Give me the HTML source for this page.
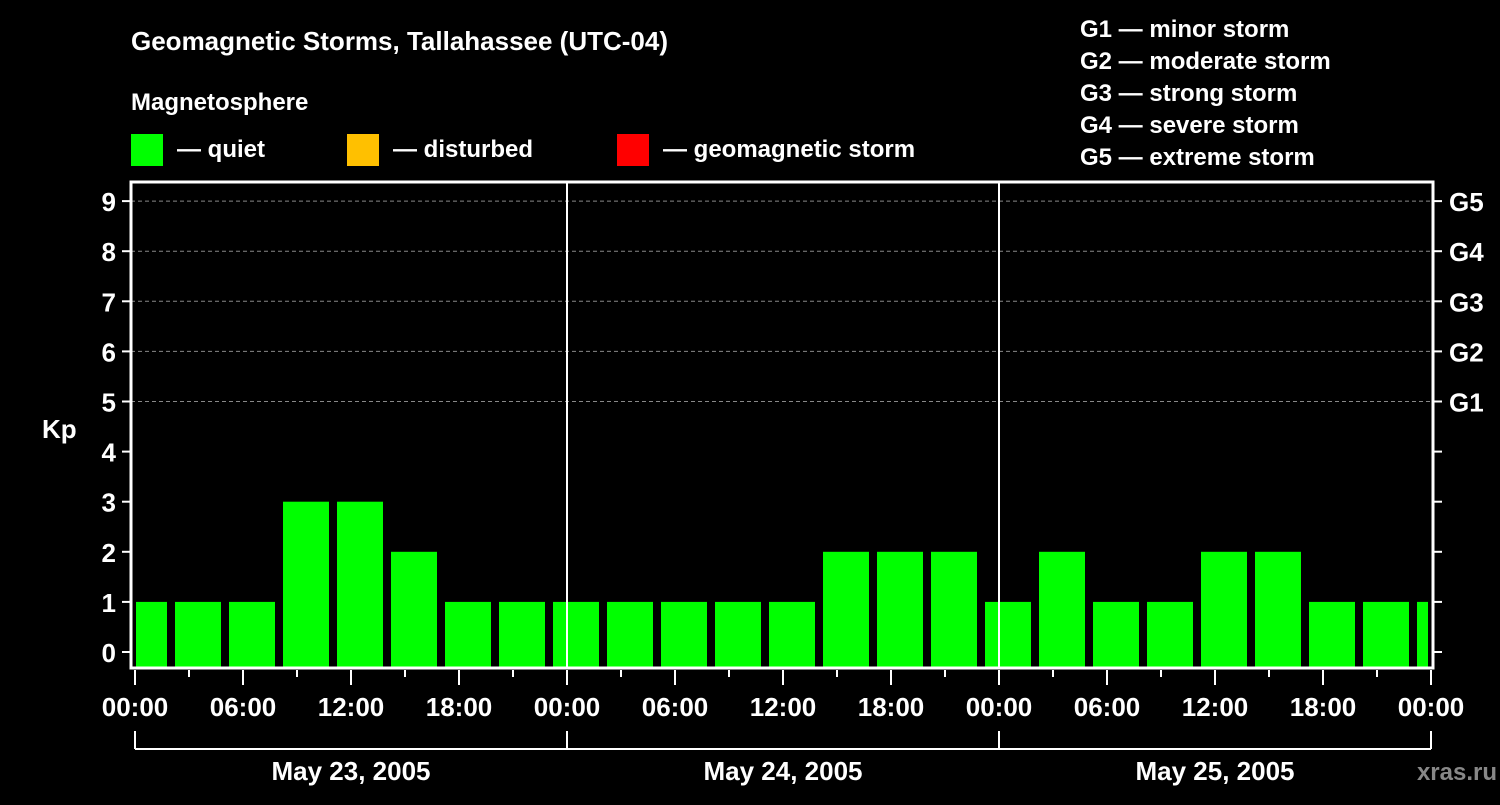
<!DOCTYPE html>
<html><head><meta charset="utf-8"><style>
body{margin:0;background:#000;width:1500px;height:800px;overflow:hidden}
svg text{font-family:"Liberation Sans",sans-serif;font-weight:bold;fill:#fff}
</style></head><body>
<svg id="chart" width="1500" height="800" viewBox="0 0 1500 800" xmlns="http://www.w3.org/2000/svg">
<text x="131" y="50" font-size="26">Geomagnetic Storms, Tallahassee (UTC-04)</text>
<text x="131" y="110" font-size="24">Magnetosphere</text>
<rect x="131" y="134" width="32" height="32" fill="#00ff00"/>
<text x="177" y="157" font-size="24">— quiet</text>
<rect x="347" y="134" width="32" height="32" fill="#ffc000"/>
<text x="393" y="157" font-size="24">— disturbed</text>
<rect x="617" y="134" width="32" height="32" fill="#ff0000"/>
<text x="663" y="157" font-size="24">— geomagnetic storm</text>
<g font-size="24">
<text x="1080" y="37">G1 — minor storm</text>
<text x="1080" y="69">G2 — moderate storm</text>
<text x="1080" y="101">G3 — strong storm</text>
<text x="1080" y="133">G4 — severe storm</text>
<text x="1080" y="165">G5 — extreme storm</text>
</g>
<text x="42" y="438" font-size="26">Kp</text>
<text x="1497" y="780" font-size="24" text-anchor="end" fill="#888" style="fill:#888">xras.ru</text>
<g id="grid"></g><g id="bars"></g><g id="axes"></g>
</svg>
<script>
const kpValues=[1,1,1,3,3,2,1,1,1,1,1,1,1,2,2,2,1,2,1,1,2,2,1,1,1];
const yTicks=[0,1,2,3,4,5,6,7,8,9];
const gLabels=["G1","G2","G3","G4","G5"];
const gLevels=[5,6,7,8,9];
const hourLabels=["00:00","06:00","12:00","18:00"];
const dayLabels=["May 23, 2005","May 24, 2005","May 25, 2005"];
const NS="http://www.w3.org/2000/svg";
const L=131,R=1433,T=182,B=668,X0=135,PXH=18,Y0=652,PXK=50.1;
const x=h=>X0+h*PXH, y=k=>Y0-k*PXK;
function mk(tag,attrs,parent){const e=document.createElementNS(NS,tag);for(const k in attrs)e.setAttribute(k,attrs[k]);parent.appendChild(e);return e;}
const grid=document.getElementById('grid'),bars=document.getElementById('bars'),axes=document.getElementById('axes');
gLevels.forEach((g,i)=>{
 const l=mk('line',{x1:L,x2:R,y1:y(g),y2:y(g),stroke:'#888','stroke-dasharray':'4,3','stroke-width':1},grid);
 
 
 const t=mk('text',{x:1449,y:y(g)+10,'font-size':26},axes);t.textContent=gLabels[i];
 
 
});
kpValues.forEach((v,i)=>{
 let s=x(-1+3*i)+4,e=x(2+3*i)-4;
 s=Math.max(s,L+5);e=Math.min(e,R-5);
 const r=mk('rect',{x:s,y:y(v),width:e-s,height:B-1-y(v),fill:v>=5?'#ff0000':(v>=4?'#ffc000':'#00ff00')},bars);
 
 
});
// day separators
[1,2].forEach(d=>{const l=mk('line',{x1:x(24*d),x2:x(24*d),y1:T,y2:B,stroke:'#fff','stroke-width':2},axes);
 
 });
const fr=mk('rect',{x:L,y:T,width:R-L,height:B-T,fill:'none',stroke:'#fff','stroke-width':3},axes);


yTicks.forEach(k=>{
 mk('line',{x1:122,x2:L,y1:y(k),y2:y(k),stroke:'#fff','stroke-width':2},axes);
 mk('line',{x1:R,x2:1442,y1:y(k),y2:y(k),stroke:'#fff','stroke-width':2},axes);
 const t=mk('text',{x:116,y:y(k)+10,'font-size':26,'text-anchor':'end'},axes);t.textContent=k;
 
 
});
for(let h=0;h<=72;h+=3){
 const major=h%6===0;
 mk('line',{x1:x(h),x2:x(h),y1:B+2,y2:major?685:677,stroke:'#fff','stroke-width':2},axes);
 if(major){const t=mk('text',{x:x(h),y:716,'font-size':26,'text-anchor':'middle'},axes);t.textContent=hourLabels[(h/6)%4];
 
 }
}
mk('line',{x1:x(0),x2:x(72),y1:749,y2:749,stroke:'#fff','stroke-width':2},axes);
[0,1,2,3].forEach(d=>mk('line',{x1:x(24*d),x2:x(24*d),y1:731,y2:749,stroke:'#fff','stroke-width':2},axes));
dayLabels.forEach((dl,d)=>{const t=mk('text',{x:x(24*d+12),y:780,'font-size':26,'text-anchor':'middle'},axes);t.textContent=dl;
 
 });
</script>
</body></html>
